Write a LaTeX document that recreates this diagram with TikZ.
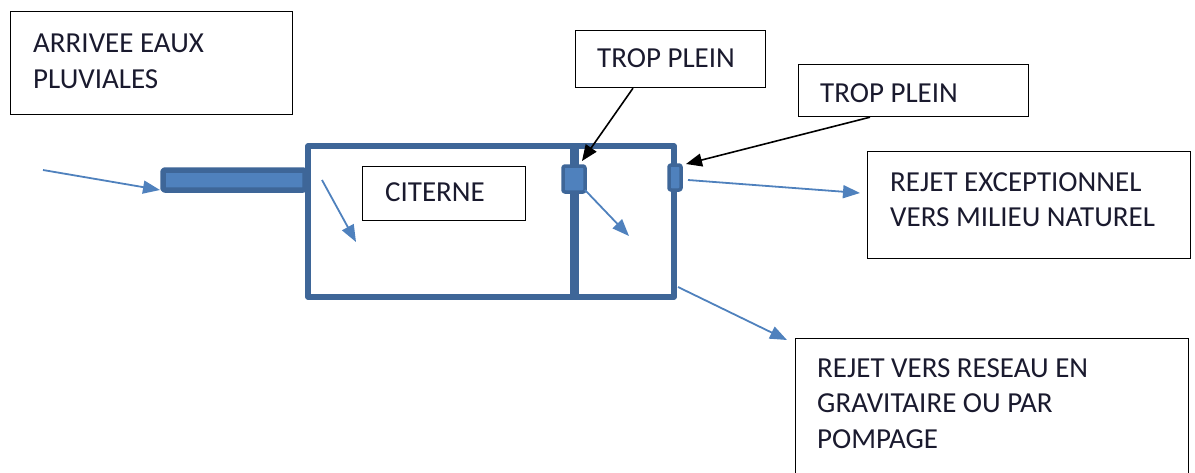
\documentclass[tikz,border=0pt]{standalone}
\usepackage{fontspec}
\setmainfont{Carlito}
\usetikzlibrary{arrows.meta}
\definecolor{tankblue}{HTML}{3E6698}
\definecolor{flowblue}{HTML}{4F81BD}
\definecolor{inktext}{HTML}{1A1A2E}
\tikzset{
box/.style = {rectangle, draw=black, line width=1.2pt, inner sep=0pt, anchor=north west},
lbl/.style = {anchor=north west, inner sep=0pt, align=left, text=inktext, font=\fontsize{29}{35.5}\selectfont},
wall/.style = {draw=tankblue, line width=5.5pt, line join=round},
flow/.style = {draw=flowblue, line width=1.8pt, -{Triangle[length=17pt, width=13pt]}},
note/.style = {draw=black, line width=1.6pt, -{Triangle[length=16pt, width=13pt]}}
}
\begin{document}
\begin{tikzpicture}[x=1pt, y=-1pt]
\useasboundingbox (0,0) rectangle (1195,472);
% text boxes
\node[box, minimum width=282pt, minimum height=103pt] (arrBox) at (10,11) {};
\node[lbl] (arrTxt) at (33,34) {ARRIVEE EAUX\\PLUVIALES};
\node[box, minimum width=190pt, minimum height=57pt] (tp1Box) at (575,30) {};
\node[lbl] (tp1Txt) at (597,48) {TROP PLEIN};
\node[box, minimum width=230pt, minimum height=52pt] (tp2Box) at (798,64) {};
\node[lbl] (tp2Txt) at (820,83) {TROP PLEIN};
\node[box, minimum width=163pt, minimum height=54pt] (citBox) at (362,166) {};
\node[lbl] (citTxt) at (385,182) {CITERNE};
\node[box, minimum width=323pt, minimum height=107pt] (rexBox) at (867,151) {};
\node[lbl] (rexTxt) at (890,172) {REJET EXCEPTIONNEL\\VERS MILIEU NATUREL};
\node[box, minimum width=393pt, minimum height=140pt] (rgrBox) at (795,338) {};
\node[lbl] (rgrTxt) at (817,358) {REJET VERS RESEAU EN\\GRAVITAIRE OU PAR\\POMPAGE};
% tank and pipe
\draw[wall] (308,146) rectangle (674,297);
\draw[wall, line width=9pt] (574,146) -- (574,297);
\draw[wall, fill=flowblue, rounded corners=2pt] (163,170) rectangle (305,190);
\draw[wall, line width=3.5pt, fill=flowblue, rounded corners=2pt] (563,166) rectangle (585,192);
\draw[wall, line width=3.5pt, fill=flowblue, rounded corners=2pt] (669,165) rectangle (681,190);
% points of the flows
\coordinate (inStart) at (43,170);
\coordinate (inEnd) at (160,190);
\coordinate (fallStart) at (322,180);
\coordinate (fallEnd) at (356,242);
\coordinate (ovStart) at (585,190);
\coordinate (ovEnd) at (629,236);
\coordinate (exStart) at (688,180);
\coordinate (exEnd) at (860,193);
\coordinate (grStart) at (678,287);
\coordinate (grEnd) at (787,340);
\coordinate (tp1Tip) at (582,161);
\coordinate (tp2Tip) at (686,164);
% flows
\draw[flow] (inStart) -- (inEnd);
\draw[flow] (fallStart) -- (fallEnd);
\draw[flow] (ovStart) -- (ovEnd);
\draw[flow] (exStart) -- (exEnd);
\draw[flow] (grStart) -- (grEnd);
% pointers
\draw[note] (tp1Box.south west) ++(58,0) -- (tp1Tip);
\draw[note] (tp2Box.south west) ++(72,0) -- (tp2Tip);
\end{tikzpicture}
\end{document}
